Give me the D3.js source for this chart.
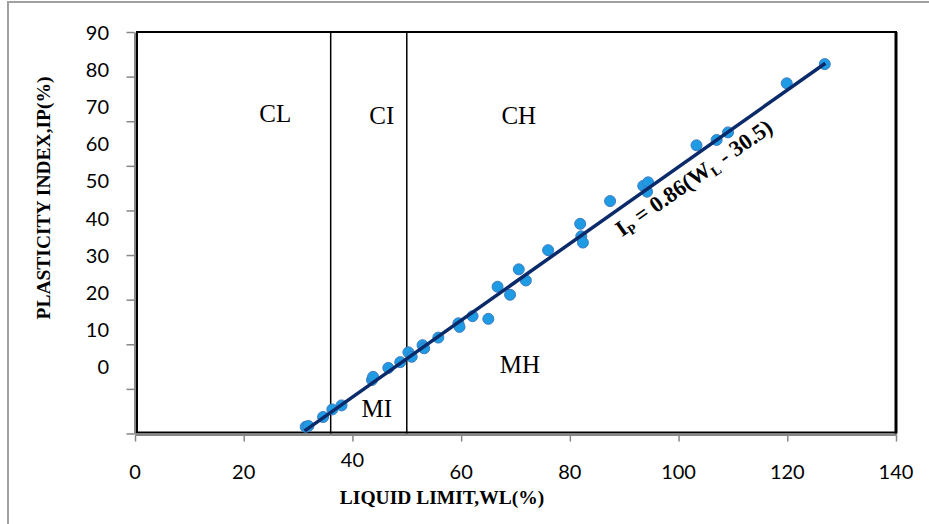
<!DOCTYPE html>
<html>
<head>
<meta charset="utf-8">
<script src="https://cdn.jsdelivr.net/npm/d3@7"></script>
<style>
  body { margin: 0; background: #fff; }
  svg { display: block; }
</style>
</head>
<body>
<svg id="chart" width="929" height="524"></svg>
<script>
// liquid limit (%) and plasticity index (%) of the samples
const wl = [31.4, 31.9, 34.6, 36.3, 38.0, 43.6, 43.8, 46.6, 48.8, 50.3, 50.9, 52.9, 53.2,
    55.8, 59.5, 59.7, 62.1, 65.0, 66.7, 69.0, 70.6, 71.9, 76.0, 81.9, 82.1, 82.4,
    87.4, 93.5, 94.4, 94.2, 103.3, 107.0, 109.1, 119.9, 126.9]
const ip = [1.5, 1.7, 3.7, 5.4, 6.3, 12.0, 12.7, 14.7, 16.0, 18.2, 17.2, 19.8, 19.1,
    21.5, 24.7, 23.9, 26.3, 25.7, 32.9, 31.1, 36.8, 34.3, 41.1, 47.0, 44.2, 42.8,
    52.1, 55.5, 56.3, 54.2, 64.6, 65.8, 67.5, 78.5, 82.8]

// trend line Ip = 0.86 (WL - 30.5), drawn over the range of the samples
const trendSlope = 0.86
const trendOffset = 30.5
const trendRange = [31.2, 127]

// zone boundaries on the liquid limit axis
const boundaries = [36, 50]

const xTicks = [0, 20, 40, 60, 80, 100, 120, 140]
const yTicks = [0, 10, 20, 30, 40, 50, 60, 70, 80, 90]

const zones = [
    {name: 'CL', wl: 25.8, ip: 69.8},
    {name: 'CI', wl: 45.4, ip: 69.4},
    {name: 'CH', wl: 70.6, ip: 69.4},
    {name: 'MI', wl: 44.5, ip: 3.7},
    {name: 'MH', wl: 70.8, ip: 13.5}
]

const colours = {
    axis: '#868686',
    frame: '#000',
    point: '#1f9be3',
    pointEdge: '#3d7cc4',
    trend: '#0a2a6a'
}

const svg = d3.select('#chart')

const x = d3.scaleLinear().domain([0, 140]).range([135, 896])
const y = d3.scaleLinear().domain([0, 90]).range([433.5, 32])
// the value labels of the y axis sit on their own, tighter spacing
const yLabel = d3.scaleLinear().domain([0, 90]).range([367, 33])

// outer border of the chart object
svg.append('path')
    .attr('d', 'M8,524 V2 H929')
    .attr('fill', 'none')
    .attr('stroke', '#a0a0a0')
    .attr('stroke-width', 2)

// plot frame
svg.append('rect')
    .attr('x', x(0) + 2)
    .attr('y', y(90))
    .attr('width', x(140) - x(0) - 2)
    .attr('height', y(0) - y(90) - 1)
    .attr('fill', 'none')
    .attr('stroke', colours.frame)
    .attr('stroke-width', 2)
svg.append('line')
    .attr('x1', x(140)).attr('x2', x(140))
    .attr('y1', y(90)).attr('y2', y(0))
    .attr('stroke', colours.frame)
    .attr('stroke-width', 3)

// axes
const xAxis = svg.append('g')
    .attr('transform', `translate(0,${y(0) + 1})`)
    .call(d3.axisBottom(x).tickValues(xTicks).tickSize(7).tickSizeOuter(0).tickFormat(''))
const yAxis = svg.append('g')
    .attr('transform', `translate(${x(0) - 0.5},0)`)
    .call(d3.axisLeft(y).tickValues(yTicks).tickSize(8).tickSizeOuter(0).tickFormat(''))
for (const g of [xAxis, yAxis]) {
    g.select('.domain').attr('stroke', colours.axis).attr('stroke-width', 2)
    g.selectAll('.tick line').attr('stroke', colours.axis).attr('stroke-width', 1.5)
}

svg.append('g')
    .selectAll('text')
    .data(xTicks)
    .join('text')
    .attr('x', d => x(d))
    .attr('y', d => d === 40 ? 467 : 479)
    .attr('text-anchor', 'middle')
    .attr('font-family', 'Lato, sans-serif')
    .attr('font-size', 20)
    .text(d => d)

svg.append('g')
    .selectAll('text')
    .data(yTicks)
    .join('text')
    .attr('x', 109)
    .attr('y', d => yLabel(d))
    .attr('dy', '0.35em')
    .attr('text-anchor', 'end')
    .attr('font-family', 'Lato, sans-serif')
    .attr('font-size', 20)
    .text(d => d)

// axis titles
svg.append('text')
    .attr('x', 442)
    .attr('y', 504)
    .attr('text-anchor', 'middle')
    .attr('font-family', '"Liberation Serif", "Times New Roman", serif')
    .attr('font-weight', 'bold')
    .attr('font-size', 19.5)
    .text('LIQUID LIMIT,WL(%)')

svg.append('text')
    .attr('transform', 'translate(50,198) rotate(-90)')
    .attr('text-anchor', 'middle')
    .attr('font-family', '"Liberation Serif", "Times New Roman", serif')
    .attr('font-weight', 'bold')
    .attr('font-size', 19.5)
    .text('PLASTICITY INDEX,IP(%)')

// zone boundaries
svg.append('g')
    .selectAll('line')
    .data(boundaries)
    .join('line')
    .attr('x1', d => x(d)).attr('x2', d => x(d))
    .attr('y1', y(90)).attr('y2', y(0))
    .attr('stroke', colours.frame)
    .attr('stroke-width', 1.5)

svg.append('g')
    .selectAll('text')
    .data(zones)
    .join('text')
    .attr('x', d => x(d.wl))
    .attr('y', d => y(d.ip))
    .attr('text-anchor', 'middle')
    .attr('font-family', '"Liberation Serif", "Times New Roman", serif')
    .attr('font-size', 25)
    .text(d => d.name)

// samples
svg.append('g')
    .selectAll('circle')
    .data(d3.zip(wl, ip))
    .join('circle')
    .attr('cx', d => x(d[0]))
    .attr('cy', d => y(d[1]))
    .attr('r', 5.5)
    .attr('fill', colours.point)
    .attr('stroke', colours.pointEdge)
    .attr('stroke-width', 1)

// trend line
const trend = trendRange.map(v => [v, trendSlope * (v - trendOffset)])
svg.append('path')
    .datum(trend)
    .attr('d', d3.line().x(d => x(d[0])).y(d => y(d[1])))
    .attr('stroke', colours.trend)
    .attr('stroke-width', 3.5)
    .attr('fill', 'none')

// equation label along the trend line
const eq = svg.append('text')
    .attr('transform', `translate(${x(89.6)},${y(44.0)}) rotate(-35)`)
    .attr('font-family', '"Liberation Serif", "Times New Roman", serif')
    .attr('font-weight', 'bold')
    .attr('font-size', 22.5)
eq.append('tspan').text('I')
eq.append('tspan').attr('font-size', 14).attr('dy', 4).text('P')
eq.append('tspan').attr('dy', -4).text(' = 0.86(W')
eq.append('tspan').attr('font-size', 14).attr('dy', 4).text('L')
eq.append('tspan').attr('dy', -4).text(' - 30.5)')
</script>
</body>
</html>
